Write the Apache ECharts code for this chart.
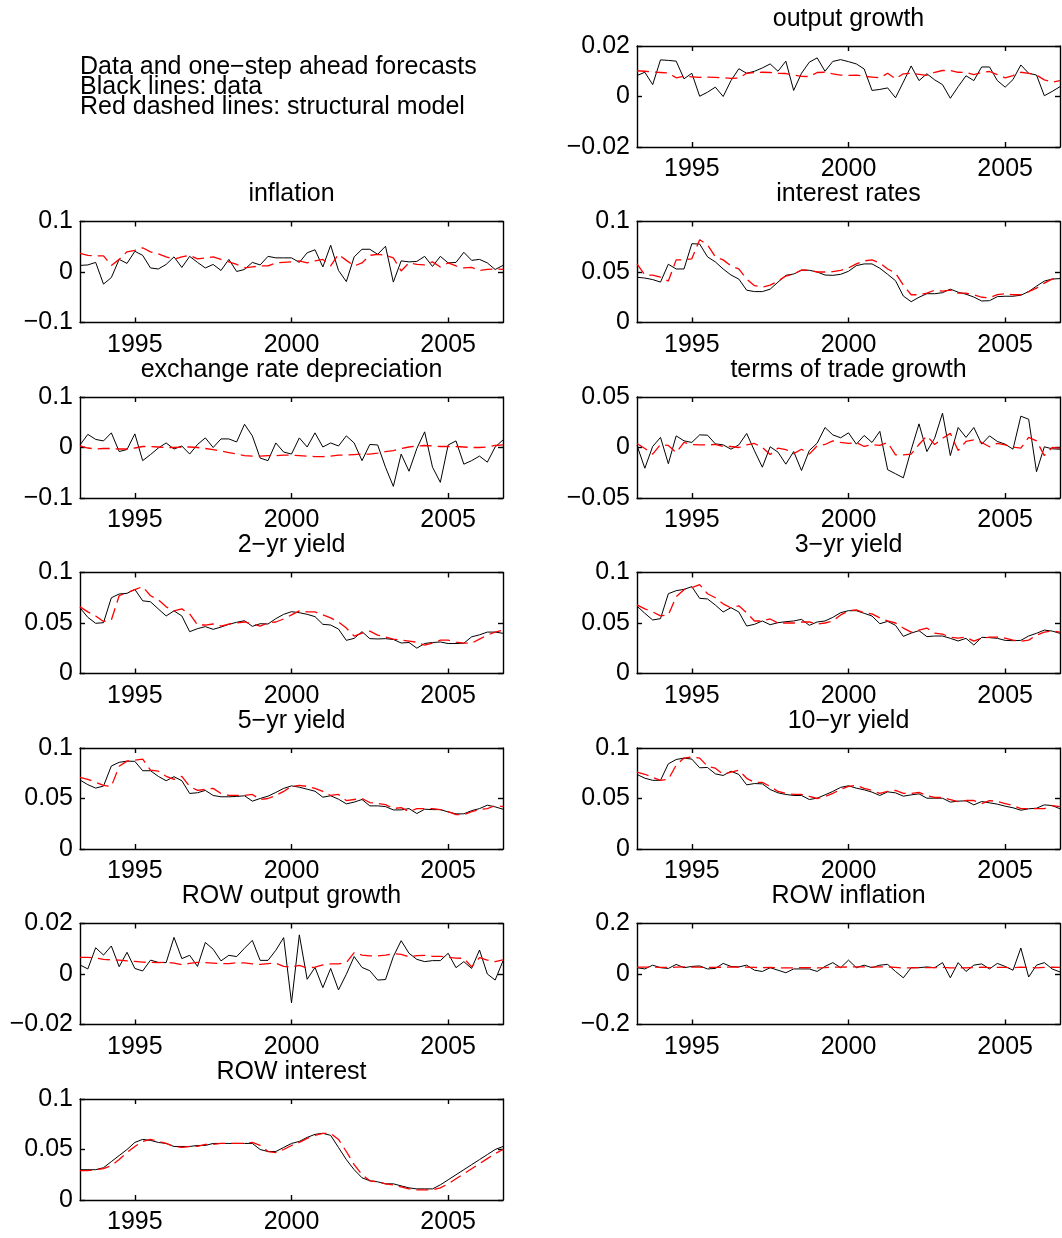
<!DOCTYPE html>
<html>
<head>
<meta charset="utf-8">
<title>Data and one-step ahead forecasts</title>
<script src="https://cdn.jsdelivr.net/npm/echarts@6/dist/echarts.min.js"></script>
<style>
  html, body { margin: 0; padding: 0; background: #fff; }
  #chart { width: 1062px; height: 1238px; }
</style>
</head>
<body>
<div id="chart"></div>
<script>
// quarterly sample 1993Q2 .. 2006Q4
const quarters = [];
for (let i = 0; i < 55; i++) quarters.push(1993.25 + i * 0.25);

// tick marks
const yearTicks = [1995, 2000, 2005];
const ticksSmall = [-0.02, 0, 0.02];
const ticksWide = [-0.1, 0, 0.1];
const ticksRate = [0, 0.05, 0.1];
const ticksTot = [-0.05, 0, 0.05];
const ticksRowInfl = [-0.2, 0, 0.2];

// black = data, red dashed = structural model forecast
const outputGrowthData = [
  0.0083, 0.0096, 0.0047, 0.0145, 0.0143, 0.014, 0.007, 0.0092, 0.0001, 0.0017,
  0.0037, 0.0, 0.0063, 0.011, 0.0092, 0.010, 0.0113, 0.0129, 0.010, 0.014,
  0.0024, 0.0092, 0.0136, 0.0153, 0.010, 0.0139, 0.0146, 0.0138, 0.0129, 0.0109,
  0.0024, 0.0028, 0.0034, -0.0005, 0.0057, 0.0121, 0.0063, 0.009, 0.0066, 0.0047,
  -0.0007, 0.0039, 0.0082, 0.0063, 0.0117, 0.0117, 0.0063, 0.0037, 0.0067, 0.0125,
  0.0092, 0.0085, 0.0003, 0.002, 0.0039
];
const outputGrowthModel = [
  0.0102, 0.0100, 0.0097, 0.0095, 0.0093, 0.0074, 0.0080, 0.0078, 0.0076, 0.0077,
  0.0076, 0.0074, 0.0072, 0.0073, 0.0092, 0.0095, 0.0096, 0.0095, 0.0092, 0.0091,
  0.0085, 0.0080, 0.0079, 0.0095, 0.0096, 0.0090, 0.0085, 0.0084, 0.0085, 0.0080,
  0.0077, 0.0074, 0.0092, 0.0070, 0.0090, 0.0092, 0.0088, 0.0084, 0.0096, 0.0103,
  0.0103, 0.0096, 0.0095, 0.0087, 0.0095, 0.0099, 0.0087, 0.0074, 0.0083, 0.0096,
  0.0092, 0.0085, 0.0066, 0.0057, 0.0063
];
const inflationData = [
  0.013, 0.014, 0.019, -0.024, -0.011, 0.025, 0.017, 0.041, 0.033, 0.008,
  0.006, 0.015, 0.030, 0.009, 0.031, 0.019, 0.008, 0.015, 0.003, 0.025,
  0.001, 0.005, 0.019, 0.014, 0.031, 0.028, 0.028, 0.028, 0.019, 0.038,
  0.044, 0.010, 0.053, 0.003, -0.019, 0.030, 0.045, 0.045, 0.035, 0.051,
  -0.020, 0.022, 0.020, 0.021, 0.031, 0.011, 0.031, 0.018, 0.019, 0.039,
  0.023, 0.025, 0.018, 0.005, 0.013
];
const inflationModel = [
  0.037, 0.033, 0.032, 0.032, 0.013, 0.025, 0.040, 0.043, 0.048, 0.040,
  0.036, 0.030, 0.025, 0.030, 0.033, 0.026, 0.028, 0.030, 0.025, 0.020,
  0.015, 0.008, 0.010, 0.012, 0.012, 0.018, 0.019, 0.020, 0.022, 0.018,
  0.022, 0.025, 0.012, 0.035, 0.023, 0.012, 0.018, 0.033, 0.035, 0.033,
  0.028, 0.002, 0.018, 0.015, 0.014, 0.020, 0.010, 0.018, 0.012, 0.008,
  0.009, 0.003, 0.005, 0.006, 0.005
];
const interestData = [
  0.0448, 0.0440, 0.0425, 0.0400, 0.0577, 0.0530, 0.0530, 0.0780, 0.0777, 0.0650,
  0.0600, 0.0530, 0.0470, 0.0430, 0.0320, 0.0306, 0.0306, 0.0330, 0.0400, 0.0467,
  0.0480, 0.0517, 0.0517, 0.0500, 0.0470, 0.0467, 0.0477, 0.0507, 0.0563, 0.0580,
  0.0580, 0.0537, 0.0477, 0.0414, 0.0262, 0.0206, 0.0250, 0.0285, 0.0285, 0.0295,
  0.0330, 0.0300, 0.0280, 0.0252, 0.0213, 0.0216, 0.0256, 0.0260, 0.0260, 0.0270,
  0.0306, 0.0360, 0.0410, 0.0430, 0.0435
];
const interestModel = [
  0.058, 0.047, 0.047, 0.045, 0.041, 0.062, 0.062, 0.063, 0.082, 0.077,
  0.065, 0.062, 0.056, 0.053, 0.043, 0.0365, 0.035, 0.037, 0.041, 0.046,
  0.048, 0.052, 0.0517, 0.050, 0.050, 0.0503, 0.0517, 0.054, 0.058, 0.061,
  0.062, 0.059, 0.053, 0.049, 0.037, 0.0275, 0.0275, 0.029, 0.032, 0.031,
  0.032, 0.029, 0.029, 0.0275, 0.025, 0.0245, 0.0275, 0.0285, 0.0275, 0.0275,
  0.0306, 0.034, 0.039, 0.043, 0.0435
];
const exchangeData = [
  0.005, 0.026, 0.016, 0.013, 0.029, -0.008, -0.004, 0.027, -0.026, -0.014,
  -0.001, 0.009, -0.003, 0.003, -0.013, 0.006, 0.019, 0.000, 0.017, 0.017,
  0.011, 0.046, 0.023, -0.021, -0.026, 0.009, -0.009, -0.013, 0.019, 0.001,
  0.029, 0.001, 0.009, 0.003, 0.023, 0.009, -0.026, 0.006, 0.005, -0.039,
  -0.077, -0.013, -0.047, -0.002, 0.031, -0.039, -0.069, 0.005, 0.013, -0.033,
  -0.026, -0.017, -0.029, 0.001, 0.015
];
const exchangeModel = [
  0.003, -0.001, -0.003, -0.002, -0.002, -0.003, -0.003, -0.001, 0.002, 0.002,
  0.001, 0.000, 0.000, 0.001, 0.001, 0.000, -0.002, -0.004, -0.007, -0.010,
  -0.013, -0.016, -0.017, -0.017, -0.016, -0.016, -0.015, -0.015, -0.016, -0.017,
  -0.018, -0.018, -0.017, -0.015, -0.015, -0.014, -0.013, -0.013, -0.011, -0.008,
  -0.006, -0.002, 0.001, 0.003, 0.004, 0.003, 0.002, 0.002, 0.002, 0.001,
  0.000, 0.000, 0.001, 0.004, 0.005
];
const totData = [
  0.002, -0.0205, 0.001, 0.010, -0.016, 0.0115, 0.0066, 0.005, 0.0125, 0.0122,
  0.0036, 0.0026, -0.0017, 0.0026, 0.0139, -0.0033, -0.0195, 0.0007, -0.0046, -0.0165,
  -0.004, -0.0228, -0.003, 0.0043, 0.0198, 0.0125, 0.0096, 0.0145, 0.0033, 0.0119,
  0.005, 0.016, -0.022, -0.026, -0.030, -0.0023, 0.0234, -0.004, 0.0092, 0.034,
  -0.008, 0.0198, 0.010, 0.0198, 0.0033, 0.0115, 0.006, 0.0033, -0.0017, 0.031,
  0.028, -0.024, 0.0007, -0.0013, -0.0017
];
const totModel = [
  0.004, -0.001, -0.0066, 0.003, 0.002, -0.005, 0.005, 0.003, 0.0026, 0.0025,
  0.003, 0.001, 0.001, 0.000, 0.0026, 0.004, 0.000, -0.007, -0.0007, -0.002,
  -0.006, -0.0017, -0.0066, 0.0017, 0.003, 0.0066, 0.005, 0.004, 0.005, 0.001,
  0.003, 0.002, 0.005, -0.0073, -0.0073, -0.0066, 0.003, 0.0115, 0.003, 0.009,
  0.014, -0.003, 0.006, 0.0076, 0.005, 0.0007, 0.004, 0.0026, 0.0003, -0.0007,
  0.010, 0.0066, -0.008, 0.000, -0.0007
];
const yield2Data = [
  0.065, 0.0556, 0.0497, 0.0503, 0.075, 0.0787, 0.0794, 0.0833, 0.072, 0.071,
  0.0639, 0.057, 0.062, 0.057, 0.0414, 0.0444, 0.0464, 0.0437, 0.046, 0.0487,
  0.0507, 0.0523, 0.0467, 0.0493, 0.049, 0.0543, 0.0586, 0.0612, 0.0602, 0.0586,
  0.0563, 0.0487, 0.048, 0.044, 0.0328, 0.0348, 0.0414, 0.0345, 0.0342, 0.0345,
  0.0337, 0.0302, 0.0307, 0.0251, 0.0297, 0.0307, 0.0312, 0.0297, 0.0297, 0.030,
  0.0363, 0.0383, 0.041, 0.041, 0.0398
];
const yield2Model = [
  0.066, 0.061, 0.057, 0.0515, 0.053, 0.077, 0.080, 0.083, 0.086, 0.077,
  0.073, 0.066, 0.062, 0.064, 0.059, 0.048, 0.048, 0.049, 0.047, 0.049,
  0.050, 0.051, 0.049, 0.047, 0.050, 0.051, 0.054, 0.058, 0.062, 0.061,
  0.061, 0.058, 0.055, 0.051, 0.045, 0.037, 0.040, 0.042, 0.038, 0.036,
  0.034, 0.033, 0.032, 0.031, 0.028, 0.030, 0.033, 0.033, 0.031, 0.030,
  0.030, 0.034, 0.038, 0.041, 0.043
];
const yield3Data = [
  0.0668, 0.0596, 0.053, 0.0543, 0.079, 0.082, 0.0833, 0.086, 0.0744, 0.0738,
  0.0678, 0.0609, 0.0652, 0.0609, 0.047, 0.0487, 0.052, 0.0483, 0.0503, 0.0513,
  0.052, 0.0536, 0.0477, 0.051, 0.052, 0.0556, 0.0602, 0.0622, 0.0622, 0.0596,
  0.0569, 0.0493, 0.0516, 0.0477, 0.0368, 0.040, 0.0424, 0.0365, 0.0371, 0.0371,
  0.0348, 0.0322, 0.0348, 0.0282, 0.0358, 0.0355, 0.0348, 0.0328, 0.0325, 0.0328,
  0.0371, 0.0398, 0.043, 0.042, 0.0398
];
const yield3Model = [
  0.068, 0.064, 0.061, 0.057, 0.058, 0.076, 0.083, 0.085, 0.088, 0.079,
  0.075, 0.069, 0.065, 0.067, 0.060, 0.052, 0.052, 0.054, 0.050, 0.050,
  0.050, 0.051, 0.051, 0.049, 0.050, 0.052, 0.058, 0.062, 0.063, 0.060,
  0.059, 0.055, 0.052, 0.050, 0.045, 0.041, 0.043, 0.045, 0.040, 0.039,
  0.036, 0.035, 0.036, 0.032, 0.035, 0.036, 0.036, 0.035, 0.033, 0.032,
  0.033, 0.038, 0.041, 0.042, 0.041
];
const yield5Data = [
  0.0683, 0.0637, 0.0603, 0.0623, 0.0822, 0.0858, 0.087, 0.0868, 0.0775, 0.0775,
  0.0719, 0.0676, 0.0716, 0.0676, 0.055, 0.0557, 0.058, 0.053, 0.0517, 0.0517,
  0.052, 0.0527, 0.0474, 0.050, 0.0523, 0.056, 0.060, 0.0625, 0.0612, 0.0592,
  0.0572, 0.0513, 0.0527, 0.0493, 0.0447, 0.0464, 0.049, 0.0427, 0.0427, 0.042,
  0.0387, 0.0387, 0.040, 0.0351, 0.0394, 0.039, 0.039, 0.0367, 0.0348, 0.0348,
  0.038, 0.040, 0.0434, 0.0417, 0.0394
];
const yield5Model = [
  0.071, 0.069, 0.066, 0.063, 0.062, 0.082, 0.087, 0.088, 0.089, 0.078,
  0.077, 0.072, 0.069, 0.072, 0.062, 0.058, 0.059, 0.060, 0.055, 0.053,
  0.053, 0.053, 0.054, 0.049, 0.050, 0.053, 0.057, 0.062, 0.063, 0.062,
  0.060, 0.057, 0.053, 0.054, 0.048, 0.049, 0.050, 0.046, 0.045, 0.044,
  0.040, 0.041, 0.037, 0.040, 0.040, 0.040, 0.039, 0.037, 0.034, 0.034,
  0.037, 0.039, 0.040, 0.043, 0.042
];
const yield10Data = [
  0.0738, 0.0701, 0.068, 0.068, 0.0843, 0.0886, 0.090, 0.089, 0.0804, 0.0807,
  0.0744, 0.0728, 0.077, 0.0738, 0.0635, 0.0648, 0.0645, 0.0589, 0.0556, 0.054,
  0.053, 0.053, 0.049, 0.0503, 0.0536, 0.057, 0.061, 0.0626, 0.0602, 0.0586,
  0.0563, 0.053, 0.0566, 0.0556, 0.0523, 0.0536, 0.0546, 0.0503, 0.0503, 0.0503,
  0.0464, 0.0474, 0.0477, 0.0437, 0.047, 0.0457, 0.0444, 0.0424, 0.0408, 0.0384,
  0.0398, 0.0404, 0.0437, 0.043, 0.0398
];
const yield10Model = [
  0.076, 0.074, 0.071, 0.068, 0.069, 0.083, 0.090, 0.091, 0.090, 0.082,
  0.080, 0.074, 0.076, 0.078, 0.070, 0.066, 0.066, 0.062, 0.057, 0.055,
  0.054, 0.054, 0.052, 0.050, 0.052, 0.055, 0.059, 0.062, 0.063, 0.060,
  0.058, 0.055, 0.057, 0.058, 0.055, 0.055, 0.056, 0.053, 0.051, 0.051,
  0.049, 0.047, 0.048, 0.048, 0.045, 0.048, 0.047, 0.045, 0.043, 0.040,
  0.040, 0.040, 0.040, 0.043, 0.042
];
const rowOutputData = [
  0.0036, 0.002, 0.0104, 0.0075, 0.0111, 0.0029, 0.0086, 0.0022, 0.0012, 0.0055,
  0.0046, 0.0045, 0.0145, 0.0061, 0.0074, 0.003, 0.0125, 0.0098, 0.0052, 0.0074,
  0.0069, 0.0102, 0.0133, 0.0054, 0.0054, 0.0094, 0.0144, -0.0114, 0.0155, -0.0021,
  0.0026, -0.0054, 0.0022, -0.0063, -0.0001, 0.0069, 0.0026, 0.0013, -0.0024, -0.0022,
  0.0069, 0.0132, 0.0082, 0.0058, 0.0049, 0.0053, 0.0053, 0.0082, 0.0025, 0.0049,
  0.0022, 0.0095, 0.0, -0.0024, 0.0052
];
const rowOutputModel = [
  0.0066, 0.0066, 0.0064, 0.0058, 0.0056, 0.0055, 0.0052, 0.0050, 0.0047, 0.0046,
  0.0045, 0.0047, 0.0043, 0.0037, 0.0042, 0.0046, 0.0045, 0.0043, 0.0041, 0.0041,
  0.0045, 0.0044, 0.0040, 0.0038, 0.0041, 0.0043, 0.0030, 0.0028, 0.0034, 0.0024,
  0.0027, 0.0036, 0.0040, 0.0040, 0.0045, 0.0085, 0.0075, 0.0072, 0.0072, 0.0075,
  0.0080, 0.0078, 0.0068, 0.0073, 0.0074, 0.0070, 0.0070, 0.0066, 0.0063, 0.0062,
  0.0028, 0.0065, 0.0055, 0.0049, 0.0056
];
const rowInflationData = [
  0.025, 0.020, 0.035, 0.025, 0.022, 0.038, 0.025, 0.030, 0.032, 0.020,
  0.022, 0.042, 0.030, 0.028, 0.035, 0.015, 0.010, 0.025, 0.015, 0.005,
  0.020, 0.020, 0.020, 0.010, 0.030, 0.045, 0.025, 0.055, 0.025, 0.035,
  0.025, 0.035, 0.038, 0.010, -0.015, 0.025, 0.025, 0.028, 0.025, 0.045,
  -0.015, 0.045, 0.010, 0.035, 0.040, 0.020, 0.042, 0.030, 0.015, 0.103,
  -0.012, 0.035, 0.045, 0.020, 0.008
];
const rowInflationModel = [
  0.027, 0.027, 0.028, 0.026, 0.026, 0.027, 0.028, 0.027, 0.027, 0.026,
  0.026, 0.027, 0.028, 0.027, 0.027, 0.026, 0.025, 0.026, 0.025, 0.024,
  0.024, 0.025, 0.025, 0.024, 0.025, 0.027, 0.027, 0.028, 0.028, 0.028,
  0.027, 0.028, 0.028, 0.026, 0.024, 0.024, 0.025, 0.025, 0.025, 0.026,
  0.024, 0.025, 0.024, 0.026, 0.027, 0.025, 0.026, 0.026, 0.025, 0.027,
  0.026, 0.024, 0.026, 0.027, 0.026
];
const rowInterestData = [
  0.030, 0.030, 0.030, 0.032, 0.038, 0.044, 0.050, 0.057, 0.060, 0.059,
  0.057, 0.056, 0.053, 0.053, 0.053, 0.054, 0.054, 0.056, 0.056, 0.056,
  0.056, 0.056, 0.056, 0.050, 0.048, 0.048, 0.052, 0.056, 0.058, 0.062,
  0.065, 0.066, 0.064, 0.052, 0.040, 0.030, 0.022, 0.019, 0.018, 0.016,
  0.016, 0.014, 0.012, 0.011, 0.011, 0.011, 0.015, 0.020, 0.025, 0.030,
  0.035, 0.040, 0.045, 0.050, 0.053
];
const rowInterestModel = [
  0.029, 0.029, 0.030, 0.031, 0.034, 0.040, 0.047, 0.053, 0.058, 0.060,
  0.058, 0.056, 0.053, 0.052, 0.053, 0.053, 0.055, 0.055, 0.056, 0.056,
  0.056, 0.056, 0.057, 0.054, 0.048, 0.047, 0.050, 0.054, 0.057, 0.061,
  0.064, 0.066, 0.066, 0.060, 0.048, 0.035, 0.025, 0.019, 0.018, 0.016,
  0.015, 0.013, 0.011, 0.010, 0.010, 0.010, 0.012, 0.016, 0.021, 0.026,
  0.031, 0.036, 0.041, 0.046, 0.050
];

const FONT = "'Liberation Sans', Arial, sans-serif";
const FONT_SIZE = 25;
const colLeft = [80, 637];
const boxW = 423;
const boxH = 101;
const rowTop = row => 46 + row * 175.5;

const panels = [
  { title: 'output growth', col: 1, row: 0, data: outputGrowthData, model: outputGrowthModel, ticks: ticksSmall },
  { title: 'inflation', col: 0, row: 1, data: inflationData, model: inflationModel, ticks: ticksWide },
  { title: 'interest rates', col: 1, row: 1, data: interestData, model: interestModel, ticks: ticksRate },
  { title: 'exchange rate depreciation', col: 0, row: 2, data: exchangeData, model: exchangeModel, ticks: ticksWide },
  { title: 'terms of trade growth', col: 1, row: 2, data: totData, model: totModel, ticks: ticksTot },
  { title: '2\u2212yr yield', col: 0, row: 3, data: yield2Data, model: yield2Model, ticks: ticksRate },
  { title: '3\u2212yr yield', col: 1, row: 3, data: yield3Data, model: yield3Model, ticks: ticksRate },
  { title: '5\u2212yr yield', col: 0, row: 4, data: yield5Data, model: yield5Model, ticks: ticksRate },
  { title: '10\u2212yr yield', col: 1, row: 4, data: yield10Data, model: yield10Model, ticks: ticksRate },
  { title: 'ROW output growth', col: 0, row: 5, data: rowOutputData, model: rowOutputModel, ticks: ticksSmall },
  { title: 'ROW inflation', col: 1, row: 5, data: rowInflationData, model: rowInflationModel, ticks: ticksRowInfl },
  { title: 'ROW interest', col: 0, row: 6, data: rowInterestData, model: rowInterestModel, ticks: ticksRate }
];

const axisLineStyle = { color: '#000', width: 1.4 };
// MATLAB style labels: true minus sign, no thousands separator
const fmt = v => (v === 0 ? '0' : String(v).replace('-', '\u2212'));

function xAxisFor(gi, pos) {
  return {
    type: 'value', gridIndex: gi, position: pos,
    min: 1993.25, max: 2006.75,
    axisLine: { show: true, onZero: false, lineStyle: axisLineStyle },
    axisTick: { show: true, inside: true, length: 5, customValues: yearTicks, lineStyle: axisLineStyle },
    axisLabel: {
      show: pos === 'bottom', customValues: yearTicks, formatter: v => String(v),
      color: '#000', fontSize: FONT_SIZE, fontFamily: FONT, margin: 10
    },
    splitLine: { show: false }
  };
}

function yAxisFor(gi, pos, ticks) {
  return {
    type: 'value', gridIndex: gi, position: pos,
    min: ticks[0], max: ticks[ticks.length - 1],
    axisLine: { show: true, onZero: false, lineStyle: axisLineStyle },
    axisTick: { show: true, inside: true, length: 5, customValues: ticks, lineStyle: axisLineStyle },
    axisLabel: {
      show: pos === 'left', customValues: ticks, formatter: fmt,
      color: '#000', fontSize: FONT_SIZE, fontFamily: FONT, margin: 7
    },
    splitLine: { show: false }
  };
}

const grid = [], xAxis = [], yAxis = [], series = [], graphic = [];

// header text in the empty top-left cell
['Data and one\u2212step ahead forecasts', 'Black lines: data', 'Red dashed lines: structural model']
  .forEach((line, k) => {
    graphic.push({
      type: 'text', x: 80, y: 67 + k * 20, silent: true,
      style: { text: line, font: FONT_SIZE + 'px ' + FONT, fill: '#000', align: 'left', verticalAlign: 'middle' }
    });
  });

panels.forEach((p, i) => {
  const left = colLeft[p.col];
  const top = rowTop(p.row);
  grid.push({ left: left, top: top, width: boxW, height: boxH, containLabel: false });
  xAxis.push(xAxisFor(i, 'bottom'), xAxisFor(i, 'top'));
  yAxis.push(yAxisFor(i, 'left', p.ticks), yAxisFor(i, 'right', p.ticks));

  series.push({
    type: 'line', xAxisIndex: 2 * i, yAxisIndex: 2 * i,
    data: quarters.map((q, k) => [q, p.data[k]]),
    symbol: 'none', lineStyle: { color: '#000', width: 1 }, z: 2
  });
  series.push({
    type: 'line', xAxisIndex: 2 * i, yAxisIndex: 2 * i,
    data: quarters.map((q, k) => [q, p.model[k]]),
    symbol: 'none', lineStyle: { color: '#ff0000', width: 1.3, type: [12, 6] }, z: 3
  });

  graphic.push({
    type: 'text', x: left + boxW / 2, y: top - 27, silent: true,
    style: { text: p.title, font: FONT_SIZE + 'px ' + FONT, fill: '#000', align: 'center', verticalAlign: 'middle' }
  });
});

const chart = echarts.init(document.getElementById('chart'), null, { renderer: 'canvas' });
chart.setOption({
  backgroundColor: '#fff',
  animation: false,
  textStyle: { fontFamily: FONT },
  grid: grid,
  xAxis: xAxis,
  yAxis: yAxis,
  series: series,
  graphic: graphic
});
</script>
</body>
</html>
